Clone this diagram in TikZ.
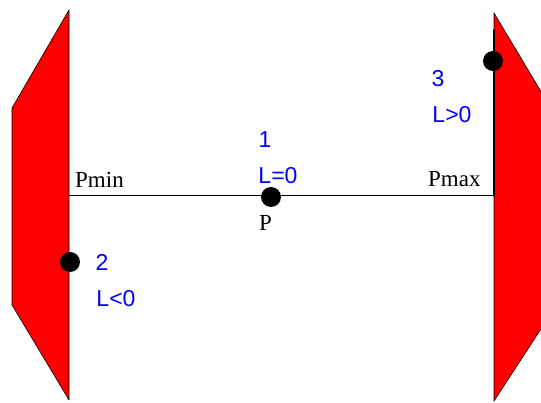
\documentclass[tikz,border=0pt]{standalone}
\usepackage{fontspec}
\setmainfont{Liberation Serif}
\newfontfamily\numfont{Liberation Sans}
\usetikzlibrary{positioning}

\begin{document}
\begin{tikzpicture}[line cap=round,line join=round,x=1pt,y=-1pt,
	plabel/.style={font=\fontsize{23}{26}\selectfont, inner sep=0pt, anchor=base west},
	llabel/.style={text=blue, font=\numfont\fontsize{23}{26}\selectfont, inner sep=0pt, anchor=base},
	dot/.style={circle, fill=black, minimum size=20pt, inner sep=0pt}]
			\clip (0,0) rectangle (541,403);
			\filldraw[color=black, fill=red, line width=0.6pt] (69,10) -- (12,108) -- (12,305) -- (69,400) -- cycle;
			\filldraw[color=black, fill=red, line width=0.6pt] (494,13) -- (552,110) -- (552,312) -- (494,401) -- cycle;
			\coordinate (pmin) at (69,196);
			\coordinate (pmax) at (494,196);
			\coordinate (wall) at (494,30);
			\draw[line width=1pt] (pmin) -- (pmax);
			\draw[line width=1.4pt] (wall) -- (pmax);
			\node[dot] (p) at (271,197) {};
			\node[dot] (p2) at (70,262) {};
			\node[dot] (p3) at (493,61) {};
			\node[plabel] (minlbl) at (75,188) {Pmin};
			\node[plabel] (maxlbl) at (428,187) {Pmax};
			\node[plabel] (plbl) at (259,231) {P};
			\node[llabel] (n1) at (265,148) {1};
			\node[llabel] (l1) at (278,184) {L=0};
			\node[llabel] (n2) at (102,271) {2};
			\node[llabel] (l2) at (116,307) {L<0};
			\node[llabel] (n3) at (438,87) {3};
			\node[llabel] (l3) at (452,123) {L>0};
\end{tikzpicture}
\end{document}
